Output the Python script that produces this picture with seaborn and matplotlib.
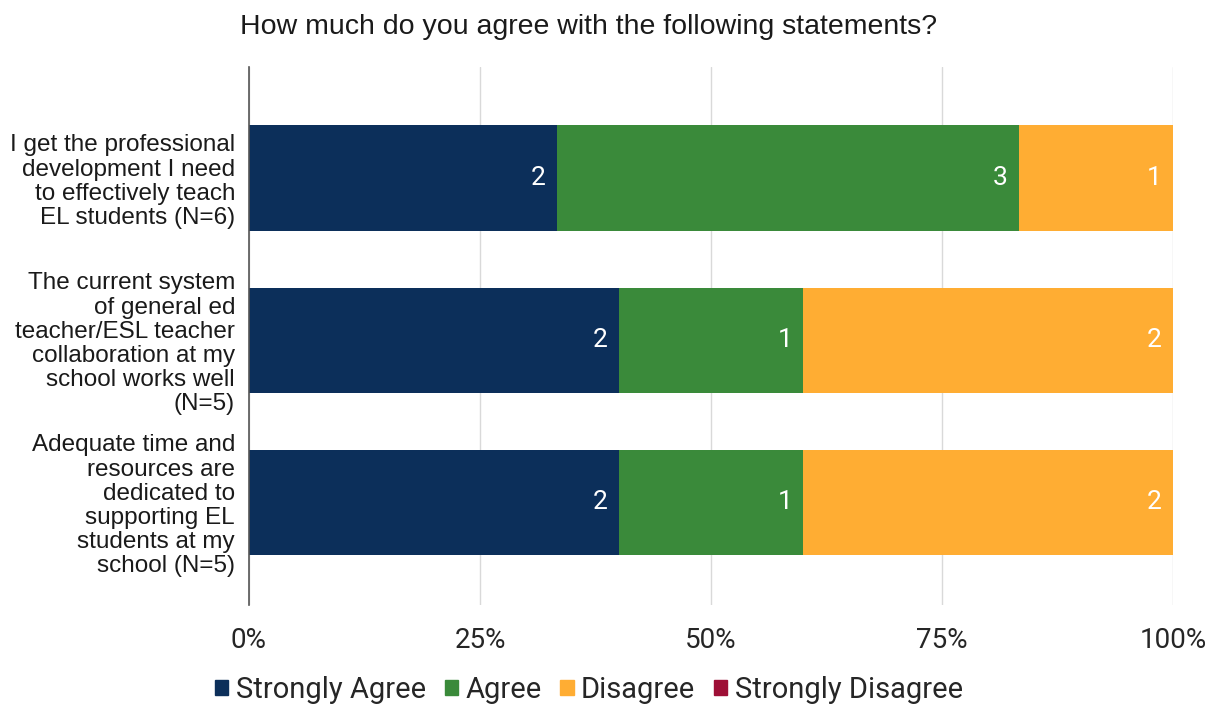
import numpy as np
import pandas as pd
import matplotlib
matplotlib.use("Agg")
import matplotlib.pyplot as plt
import seaborn as sns

statements = [
    "I get the professional\ndevelopment I need\nto effectively teach\nEL students (N=6)",
    "The current system\nof general ed\nteacher/ESL teacher\ncollaboration at my\nschool works well\n(N=5)",
    "Adequate time and\nresources are\ndedicated to\nsupporting EL\nstudents at my\nschool (N=5)",
]
categories = ["Strongly Agree", "Agree", "Disagree", "Strongly Disagree"]
strongly_agree = [2, 2, 2]
agree = [3, 1, 1]
disagree = [1, 2, 2]
strongly_disagree = [0, 0, 0]
colors = ["#0c2f5a", "#3a8a3a", "#ffad33", "#9e0f36"]
tick_labels = ["0%", "25%", "50%", "75%", "100%"]

sns.set_theme(style="white")
plt.rcParams["font.family"] = ["Liberation Sans", "DejaVu Sans"]
ARIAL = ["Liberation Sans", "DejaVu Sans"]
ROBOTO = ["Roboto", "DejaVu Sans"]

counts = np.array([strongly_agree, agree, disagree, strongly_disagree], dtype=float)
totals = counts.sum(axis=0)
pct = counts / totals * 100
cum = np.cumsum(pct, axis=0)

fig = plt.figure(figsize=(12.1, 7.04), dpi=100)
ax = fig.add_axes([249 / 1210, 1 - 605 / 704, (1173 - 249) / 1210, (605 - 67) / 704])

for i in range(len(categories) - 1, -1, -1):
    df = pd.DataFrame({"statement": statements, "value": cum[i]})
    sns.barplot(data=df, x="value", y="statement", orient="h", color=colors[i],
                width=0.65, saturation=1, ax=ax, order=statements, linewidth=0)

for i in range(len(categories)):
    for j in range(len(statements)):
        if counts[i, j] > 0:
            ax.annotate(f"{int(counts[i, j])}", xy=(cum[i, j], j), xytext=(-8, 0),
                        textcoords="offset points", ha="right", va="center",
                        color="white", fontsize=19, family=ROBOTO)

ax.set_xlim(0, 100)
ax.set_ylim(2.633, -0.685)
ax.set_xticks([0, 25, 50, 75, 100])
ax.set_xticklabels(tick_labels, fontsize=20, family=ROBOTO)
ax.tick_params(axis="x", pad=16, length=0)
ax.tick_params(axis="y", length=0, pad=10)
ax.set_yticks(range(len(statements)))
ax.set_yticklabels(statements, fontsize=17.5, family=ARIAL, color="#1a1a1a",
                   ha="right", linespacing=1.13)
ax.set_xlabel("")
ax.set_ylabel("")
ax.grid(axis="x", color="#d9d9d9", linewidth=1)
ax.set_axisbelow(True)
for s in ["top", "right", "bottom"]:
    ax.spines[s].set_visible(False)
ax.spines["left"].set_color("#555555")
ax.spines["left"].set_linewidth(1.2)

fig.text(588 / 1210, 1 - 27 / 704, "How much do you agree with the following statements?",
         ha="center", va="center", fontsize=20.5, color="#1a1a1a", family=ARIAL)

handles = [plt.Rectangle((0, 0), 1, 1, color=c) for c in colors]
fig.legend(handles, categories, loc="center", bbox_to_anchor=(589 / 1210, 1 - 690 / 704),
           ncol=4, frameon=False, handlelength=0.45, handleheight=0.45, handletextpad=0.25,
           columnspacing=0.65, prop={"family": ROBOTO, "size": 21})

fig.savefig("out.png", dpi=100)
